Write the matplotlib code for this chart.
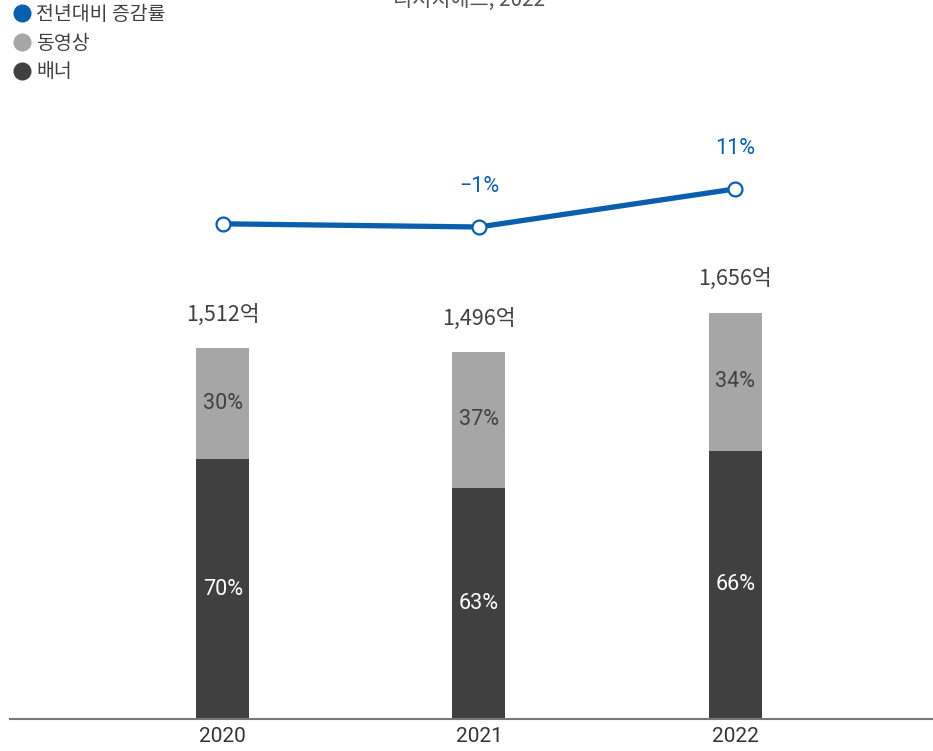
import matplotlib.pyplot as plt
from matplotlib.lines import Line2D

plt.rcParams['font.family'] = ['Roboto', 'Noto Sans CJK KR', 'DejaVu Sans']

years = ['2020', '2021', '2022']
totals = [1512, 1496, 1656]
banner_share = [70, 63, 66]
video_share = [30, 37, 34]
growth = [0, -1, 11]
growth_labels = ['', '−1%', '11%']

c_banner = '#404040'
c_video = '#a6a6a6'
c_line = '#0a5fad'

fig = plt.figure(figsize=(9.33, 7.51), dpi=100)
ax = fig.add_axes([10 / 933, 32 / 751, 922 / 933, 719 / 751])

x = list(range(len(years)))
banner = [t * s / 100 for t, s in zip(totals, banner_share)]
video = [t * s / 100 for t, s in zip(totals, video_share)]

w = 0.207
ax.bar(x, banner, width=w, color=c_banner, zorder=2)
ax.bar(x, video, width=w, bottom=banner, color=c_video, zorder=2)

for i in x:
    ax.text(i, banner[i] / 2, f'{banner_share[i]}%', ha='center', va='center',
            color='white', fontsize=15.5)
    ax.text(i, banner[i] + video[i] / 2, f'{video_share[i]}%', ha='center',
            va='center', color=c_banner, fontsize=15.5)
    ax.annotate(f'{totals[i]:,}억', (i, totals[i]), xytext=(0, 24),
                textcoords='offset points', ha='center', va='center',
                color=c_banner, fontsize=15.5,
                family=['Noto Sans CJK KR'])

ax.set_xlim(-0.830, 2.768)
ax.set_ylim(0, 2930)
for side in ['top', 'right', 'left']:
    ax.spines[side].set_visible(False)
ax.spines['bottom'].set_color('#777777')
ax.spines['bottom'].set_linewidth(1.5)
ax.set_yticks([])
ax.set_xticks(x)
ax.set_xticklabels(years, fontsize=15, color='#333333')
ax.tick_params(axis='x', length=0, pad=6)

# growth rate on its own scale
ax2 = ax.twinx()
ax2.set_ylim(-156.2, 70.6)
ax2.axis('off')
ax2.plot(x, growth, color=c_line, lw=3.8, marker='o', markersize=10,
         markerfacecolor='white', markeredgecolor=c_line, markeredgewidth=1.6,
         solid_capstyle='round', zorder=3)
for i in x:
    if growth_labels[i]:
        ax2.annotate(growth_labels[i], (i, growth[i]), xytext=(0, 29),
                     textcoords='offset points', ha='center', va='center',
                     color=c_line, fontsize=15.5)

handles = [
    Line2D([], [], ls='', marker='o', markersize=12, color=c_line),
    Line2D([], [], ls='', marker='o', markersize=12, color=c_video),
    Line2D([], [], ls='', marker='o', markersize=12, color=c_banner),
]
fig.legend(handles, ['전년대비 증감률', '동영상', '배너'], loc='upper left',
           bbox_to_anchor=(3 / 933, 1 + 4 / 751), frameon=False,
           handletextpad=0.1, labelspacing=0.4, borderaxespad=0,
           handlelength=1.2, labelcolor='#404040',
           prop={'family': ['Noto Sans CJK KR'], 'size': 14})

fig.text(469 / 933, 1 - 6 / 751, '리서치애드, 2022', ha='center',
         va='baseline', fontsize=15, color='#555555',
         family=['Noto Sans CJK KR'])

fig.savefig('out.png', dpi=100)
